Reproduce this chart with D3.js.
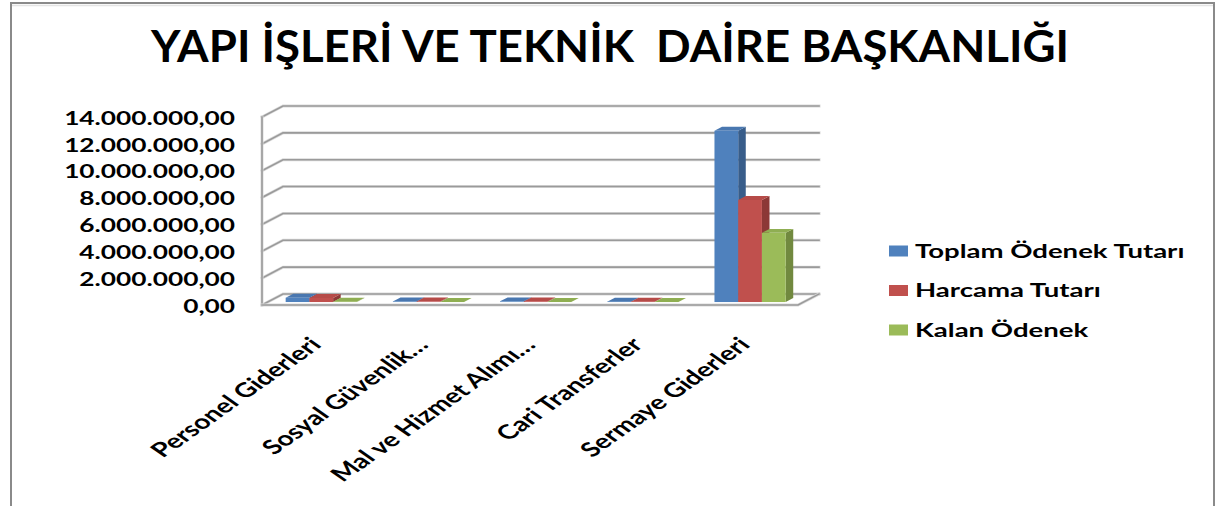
<!DOCTYPE html>
<html>
<head>
<meta charset="utf-8">
<script src="https://cdn.jsdelivr.net/npm/d3@7"></script>
<style>
  html, body { margin: 0; padding: 0; background: #fff; }
  svg { display: block; }
  text { font-family: Lato, "Open Sans", sans-serif; font-weight: bold; fill: #000; }
</style>
</head>
<body>
<svg id="chart" width="1215" height="506"></svg>
<script>
// Budget figures per expense category (TL)
const categories = ["Personel Giderleri", "Sosyal Güvenlik…", "Mal ve Hizmet Alımı…", "Cari Transferler", "Sermaye Giderleri"];
const seriesNames = ["Toplam Ödenek Tutarı", "Harcama Tutarı", "Kalan Ödenek"];
const toplamOdenek = [320000, 40000, 50000, 30000, 12750000];
const harcamaTutari = [300000, 35000, 45000, 25000, 7600000];
const kalanOdenek = [20000, 5000, 5000, 5000, 5150000];
const yTicks = [0, 2000000, 4000000, 6000000, 8000000, 10000000, 12000000, 14000000];
const titleText = "YAPI İŞLERİ VE TEKNİK  DAİRE BAŞKANLIĞI";

const seriesValues = [toplamOdenek, harcamaTutari, kalanOdenek];
const faceColors = [
  { front: "#4F81BD", top: "#4977B0", side: "#385D8A" },
  { front: "#C0504D", top: "#B64B48", side: "#8C3836" },
  { front: "#9BBB59", top: "#8FAE52", side: "#71893F" }
];

const svg = d3.select("#chart");
const stretch = 1.42; // horizontal stretch applied to all text glyphs

// chart frame
svg.append("rect")
  .attr("x", 11).attr("y", 3).attr("width", 1203).attr("height", 560)
  .attr("fill", "none").attr("stroke", "#8a8a8a").attr("stroke-width", 2);
svg.append("line")
  .attr("x1", 12).attr("x2", 1213).attr("y1", 5.5).attr("y2", 5.5)
  .attr("stroke", "#e4e4e4").attr("stroke-width", 1.5);

// title
svg.append("text")
  .attr("x", 610).attr("y", 62)
  .attr("text-anchor", "middle")
  .attr("font-size", 44)
  .attr("textLength", 918)
  .attr("lengthAdjust", "spacingAndGlyphs")
  .style("white-space", "pre")
  .text(titleText);

// 3D plot geometry: front plane scales plus a depth offset to the back wall
const x0 = d3.scaleBand().domain(categories).range([262, 798]).paddingInner(0).paddingOuter(0);
const x1 = d3.scaleBand().domain(seriesNames).range([18, 89.2]);
const y = d3.scaleLinear().domain([0, 14000000]).range([305, 117]);
const depthX = 21, depthY = -11;
const barDepth0 = 0.27, barDepth1 = 0.63;

const xLeft = x0.range()[0], xRight = x0.range()[1];

const grid = svg.append("g").attr("fill", "none").attr("stroke-linecap", "square");

function gridLine(pts) {
  const line = d3.line();
  grid.append("path").attr("d", line(pts)).attr("stroke", "#dadada").attr("stroke-width", 3);
  grid.append("path").attr("d", line(pts)).attr("stroke", "#9a9a9a").attr("stroke-width", 1.6);
}

// back-wall and side-wall gridlines
yTicks.forEach(v => {
  const yf = y(v);
  gridLine([[xLeft, yf], [xLeft + depthX, yf + depthY], [xRight + depthX, yf + depthY]]);
});
// side wall front edge and floor edges
gridLine([[xLeft, y(14000000)], [xLeft, y(0)]]);
gridLine([[xLeft, y(0)], [xRight, y(0)], [xRight + depthX, y(0) + depthY]]);

// y tick labels
const fmt = d3.formatLocale({ decimal: ",", thousands: ".", grouping: [3], currency: ["", ""] }).format(",.2f");
svg.append("g").selectAll("text")
  .data(yTicks)
  .join("text")
  .attr("text-anchor", "end")
  .attr("font-size", 18.5)
  .attr("dy", "0.36em")
  .attr("transform", d => `translate(235,${y(d) + 1}) scale(${stretch},1)`)
  .text(d => fmt(d));

// bars: front face, top face and right side face
const bars = svg.append("g");
categories.forEach((cat, ci) => {
  seriesNames.forEach((s, si) => {
    const v = seriesValues[si][ci];
    const c = faceColors[si];
    const fx0 = x0(cat) + x1(s) + depthX * barDepth0;
    const fx1 = fx0 + x1.bandwidth();
    const fyB = y(0) + depthY * barDepth0;
    const fyT = y(v) + depthY * barDepth0;
    const dx = depthX * (barDepth1 - barDepth0);
    const dy = depthY * (barDepth1 - barDepth0);
    const line = d3.line();
    bars.append("path")
      .attr("d", line([[fx1, fyB], [fx1 + dx, fyB + dy], [fx1 + dx, fyT + dy], [fx1, fyT]]) + "Z")
      .attr("fill", c.side);
    bars.append("path")
      .attr("d", line([[fx0, fyT], [fx1, fyT], [fx1 + dx, fyT + dy], [fx0 + dx, fyT + dy]]) + "Z")
      .attr("fill", c.top);
    bars.append("rect")
      .attr("x", fx0).attr("y", fyT)
      .attr("width", fx1 - fx0).attr("height", Math.max(0, fyB - fyT))
      .attr("fill", c.front);
  });
});

// category labels
svg.append("g").selectAll("text")
  .data(categories)
  .join("text")
  .attr("text-anchor", "end")
  .attr("font-size", 20)
  .attr("transform", d => `translate(${x0(d) + x0.bandwidth() / 2 + 7},346) scale(${stretch},1) rotate(-45)`)
  .text(d => d);

// legend
const legend = svg.append("g");
seriesNames.forEach((s, i) => {
  const cy = 251 + i * 39.5;
  legend.append("rect")
    .attr("x", 889).attr("y", cy - 5.5)
    .attr("width", 19).attr("height", 11)
    .attr("fill", faceColors[i].front);
  legend.append("text")
    .attr("font-size", 19.4)
    .attr("dy", "0.36em")
    .attr("transform", `translate(915,${cy}) scale(${stretch},1)`)
    .text(s);
});
</script>
</body>
</html>
